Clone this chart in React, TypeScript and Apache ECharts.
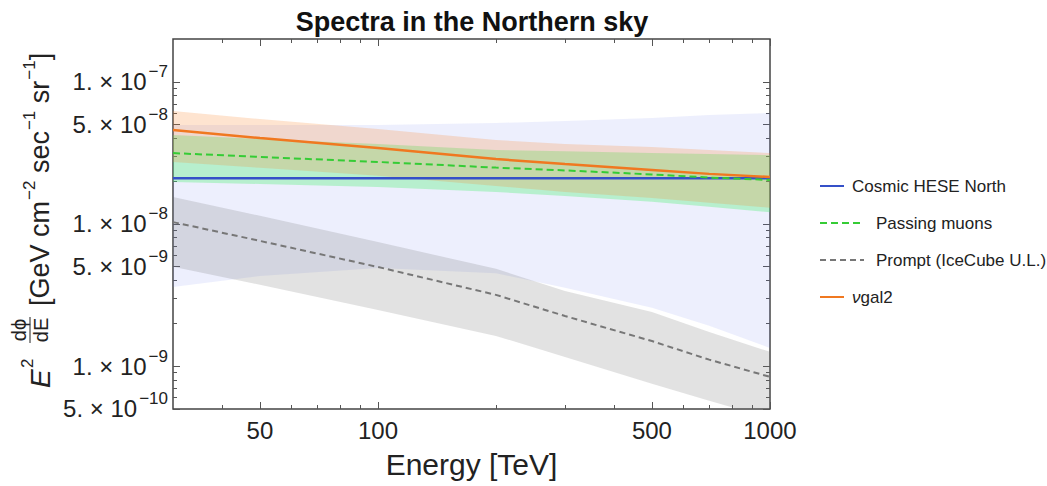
import React, { useEffect, useRef } from "react";
import * as echarts from "echarts";

// ---------- data ----------
const ENERGY = [30, 50, 100, 200, 300, 500, 700, 1000];

const HESE = [2.1e-8, 2.1e-8, 2.1e-8, 2.1e-8, 2.1e-8, 2.1e-8, 2.1e-8, 2.1e-8];
const HESE_LO = [3.6e-9, 4.3e-9, 4.9e-9, 4.5e-9, 3.55e-9, 2.57e-9, 1.92e-9, 1.34e-9];
const HESE_HI = [4.97e-8, 4.97e-8, 4.97e-8, 5.13e-8, 5.3e-8, 5.56e-8, 5.85e-8, 6.03e-8];

const MUON = [3.15e-8, 2.96e-8, 2.73e-8, 2.49e-8, 2.38e-8, 2.23e-8, 2.12e-8, 2.04e-8];
const MUON_LO = [1.97e-8, 1.91e-8, 1.82e-8, 1.68e-8, 1.57e-8, 1.43e-8, 1.32e-8, 1.21e-8];
const MUON_HI = [4.23e-8, 3.96e-8, 3.65e-8, 3.31e-8, 3.24e-8, 3.15e-8, 3.1e-8, 3.05e-8];

const PROMPT = [1.03e-8, 7.6e-9, 4.98e-9, 3.17e-9, 2.25e-9, 1.5e-9, 1.11e-9, 8.4e-10];
const PROMPT_LO = [4.99e-9, 3.73e-9, 2.48e-9, 1.63e-9, 1.16e-9, 7.5e-10, 5.7e-10, 4.3e-10];
const PROMPT_HI = [1.55e-8, 1.14e-8, 7.46e-9, 4.83e-9, 3.38e-9, 2.4e-9, 1.74e-9, 1.26e-9];

const GAL = [4.58e-8, 4.02e-8, 3.42e-8, 2.86e-8, 2.64e-8, 2.4e-8, 2.25e-8, 2.14e-8];
const GAL_LO = [2.73e-8, 2.48e-8, 2.18e-8, 1.85e-8, 1.68e-8, 1.52e-8, 1.41e-8, 1.3e-8];
const GAL_HI = [6.23e-8, 5.47e-8, 4.66e-8, 3.9e-8, 3.65e-8, 3.48e-8, 3.31e-8, 3.15e-8];

const X_MAJOR = [50, 100, 500, 1000];
const X_MINOR = [40, 60, 70, 80, 90, 200, 300, 400, 600, 700, 800, 900];
const Y_MAJOR = [5e-10, 1e-9, 5e-9, 1e-8, 5e-8, 1e-7];
const Y_MINOR = [
  6e-10, 7e-10, 8e-10, 9e-10, 2e-9, 3e-9, 4e-9, 6e-9, 7e-9, 8e-9, 9e-9,
  2e-8, 3e-8, 4e-8, 6e-8, 7e-8, 8e-8, 9e-8,
];

const X_MIN = 30;
const X_MAX = 1000.5;
const Y_MIN = 4.99e-10;
const Y_MAX = 2e-7;

const NAMES = ["Cosmic HESE North", "Passing muons", "Prompt (IceCube U.L.)", "νgal2"];

const FONT = '"Liberation Sans", Arial, Helvetica, sans-serif';
const INK = "#222";

function sciLabel(v: number): string {
  const e = Math.floor(Math.log10(v) + 1e-6);
  const m = Math.round(v / Math.pow(10, e));
  return `{m|${m}. × 10}{e|−${Math.abs(e)}}`;
}

function band(name: string, lo: number[], hi: number[], fill: string, z: number) {
  return {
    type: "custom",
    name,
    coordinateSystem: "cartesian2d",
    xAxisIndex: 0,
    yAxisIndex: 0,
    silent: true,
    z,
    data: ENERGY.map((e, i) => [e, lo[i], hi[i]]),
    encode: { x: 0, y: [1, 2] },
    renderItem: (params: any, api: any) => {
      if (params.dataIndex !== 0) return null;
      const top = ENERGY.map((e, i) => api.coord([e, hi[i]]));
      const bot = ENERGY.map((e, i) => api.coord([e, lo[i]])).reverse();
      const cs = params.coordSys;
      return {
        type: "polygon",
        shape: { points: top.concat(bot) },
        style: { fill, stroke: "none" },
        clipPath: { type: "rect", shape: { x: cs.x, y: cs.y, width: cs.width, height: cs.height } },
      };
    },
  };
}

function line(name: string, vals: number[], color: string, width: number, type: any) {
  return {
    type: "line",
    name,
    xAxisIndex: 0,
    yAxisIndex: 0,
    z: 5,
    symbol: "none",
    data: ENERGY.map((e, i) => [e, vals[i]]),
    lineStyle: { color, width, type },
    itemStyle: { color },
  };
}

function xAxes() {
  const base = { type: "log", logBase: 10, min: X_MIN, max: X_MAX, splitLine: { show: false }, axisLine: { show: false } };
  const tick = (vals: number[], len: number) => ({
    show: true, inside: true, length: len, customValues: vals, lineStyle: { color: "#555", width: 1 },
  });
  return [
    {
      ...base, position: "bottom", axisTick: tick(X_MAJOR, 7),
      axisLabel: { customValues: X_MAJOR, fontSize: 24, color: INK, margin: 9, fontFamily: FONT, formatter: (v: number) => String(Math.round(v)) },
      name: "Energy [TeV]", nameLocation: "middle", nameGap: 40,
      nameTextStyle: { fontSize: 30, color: INK, fontFamily: FONT },
    },
    { ...base, position: "bottom", axisTick: tick(X_MINOR, 4), axisLabel: { show: false } },
    { ...base, position: "top", axisTick: tick(X_MAJOR, 7), axisLabel: { show: false } },
    { ...base, position: "top", axisTick: tick(X_MINOR, 4), axisLabel: { show: false } },
  ];
}

function yAxes() {
  const base = { type: "log", logBase: 10, min: Y_MIN, max: Y_MAX, splitLine: { show: false }, axisLine: { show: false } };
  const tick = (vals: number[], len: number) => ({
    show: true, inside: true, length: len, customValues: vals, lineStyle: { color: "#555", width: 1 },
  });
  return [
    {
      ...base, position: "left", axisTick: tick(Y_MAJOR, 7),
      axisLabel: {
        customValues: Y_MAJOR, margin: 5, formatter: sciLabel,
        rich: {
          m: { fontSize: 24, color: INK, fontFamily: FONT },
          e: { fontSize: 17, color: INK, fontFamily: FONT, padding: [0, 0, 20, 2] },
        },
      },
    },
    { ...base, position: "left", axisTick: tick(Y_MINOR, 4), axisLabel: { show: false } },
    { ...base, position: "right", axisTick: tick(Y_MAJOR, 7), axisLabel: { show: false } },
    { ...base, position: "right", axisTick: tick(Y_MINOR, 4), axisLabel: { show: false } },
  ];
}

function legendEntry(name: string, top: number, iconW: number, textPad: number) {
  return {
    data: [name],
    left: 819,
    top,
    orient: "vertical",
    padding: 0,
    itemWidth: iconW,
    itemHeight: 14,
    selectedMode: false,
    itemStyle: { opacity: 0 },
    textStyle: {
      fontSize: 17, color: INK, fontFamily: FONT, lineHeight: 20, padding: [0, 0, 0, textPad],
      rich: { i: { fontSize: 17, fontStyle: "italic", color: INK, fontFamily: FONT } },
    },
    formatter: (n: string) => (n === "νgal2" ? "{i|ν}gal2" : n),
  };
}

function yTitle() {
  const t = (text: string, x: number, y: number, size: number, extra: any = {}) => ({
    type: "text", x, y,
    style: { text, font: `${extra.italic ? "italic " : ""}${size}px ${FONT}`, fill: INK, verticalAlign: "middle", align: extra.align || "left" },
  });
  return {
    type: "group", x: 40, y: 390, rotation: Math.PI / 2,
    children: [
      t("E", 2, 0, 28, { italic: true }),
      t("2", 22, -13, 17),
      t("dϕ", 60, -21, 20, { align: "center" }),
      { type: "line", shape: { x1: 47, y1: -10, x2: 73, y2: -10 }, style: { stroke: INK, lineWidth: 1 } },
      t("dE", 60, 1, 20, { align: "center" }),
      {
        type: "text", x: 84, y: 0,
        style: {
          text: "{m|[GeV cm}{e|−2}{m| sec}{e|−1}{m| sr}{e|−1}{m|]}",
          verticalAlign: "middle", align: "left",
          rich: {
            m: { fontSize: 27, fill: INK, fontFamily: FONT },
            e: { fontSize: 17, fill: INK, fontFamily: FONT, padding: [0, 0, 22, 1] },
          },
        },
      },
    ],
  };
}

export default function App() {
  const ref = useRef<HTMLDivElement>(null);
  useEffect(() => {
    if (!ref.current) return;
    const chart = echarts.init(ref.current, undefined, { renderer: "svg" });
    const option: any = {
      animation: false,
      backgroundColor: "#ffffff",
      textStyle: { fontFamily: FONT },
      title: {
        text: "Spectra in the Northern sky",
        left: 472, top: 8, padding: 0, textAlign: "center",
        textStyle: { fontSize: 27, fontWeight: "bold", color: "#111", fontFamily: FONT },
      },
      grid: {
        left: 173, top: 39, width: 597, height: 370,
        show: true, borderColor: "#444", borderWidth: 1.5, backgroundColor: "transparent",
      },
      xAxis: xAxes(),
      yAxis: yAxes(),
      legend: [
        legendEntry(NAMES[0], 176, 24, 3),
        legendEntry(NAMES[1], 213, 44, 7),
        legendEntry(NAMES[2], 250, 44, 7),
        legendEntry(NAMES[3], 287, 24, 3),
      ],
      graphic: [yTitle()],
      series: [
        band("hese-band", HESE_LO, HESE_HI, "rgba(110,120,235,0.12)", 1),
        band("prompt-band", PROMPT_LO, PROMPT_HI, "rgba(110,110,110,0.2)", 1),
        band("muon-band", MUON_LO, MUON_HI, "rgba(60,240,100,0.3)", 1),
        band("gal-band", GAL_LO, GAL_HI, "rgba(250,130,40,0.22)", 1),
        line(NAMES[0], HESE, "#3550c8", 2.5, "solid"),
        line(NAMES[1], MUON, "#35cc35", 2, [7, 4]),
        line(NAMES[2], PROMPT, "#777777", 2, [6, 4]),
        line(NAMES[3], GAL, "#f07820", 2.5, "solid"),
      ],
    };
    chart.setOption(option);
    return () => chart.dispose();
  }, []);
  return <div ref={ref} style={{ position: "absolute", left: 0, top: 0, width: 1047, height: 486 }} />;
}
